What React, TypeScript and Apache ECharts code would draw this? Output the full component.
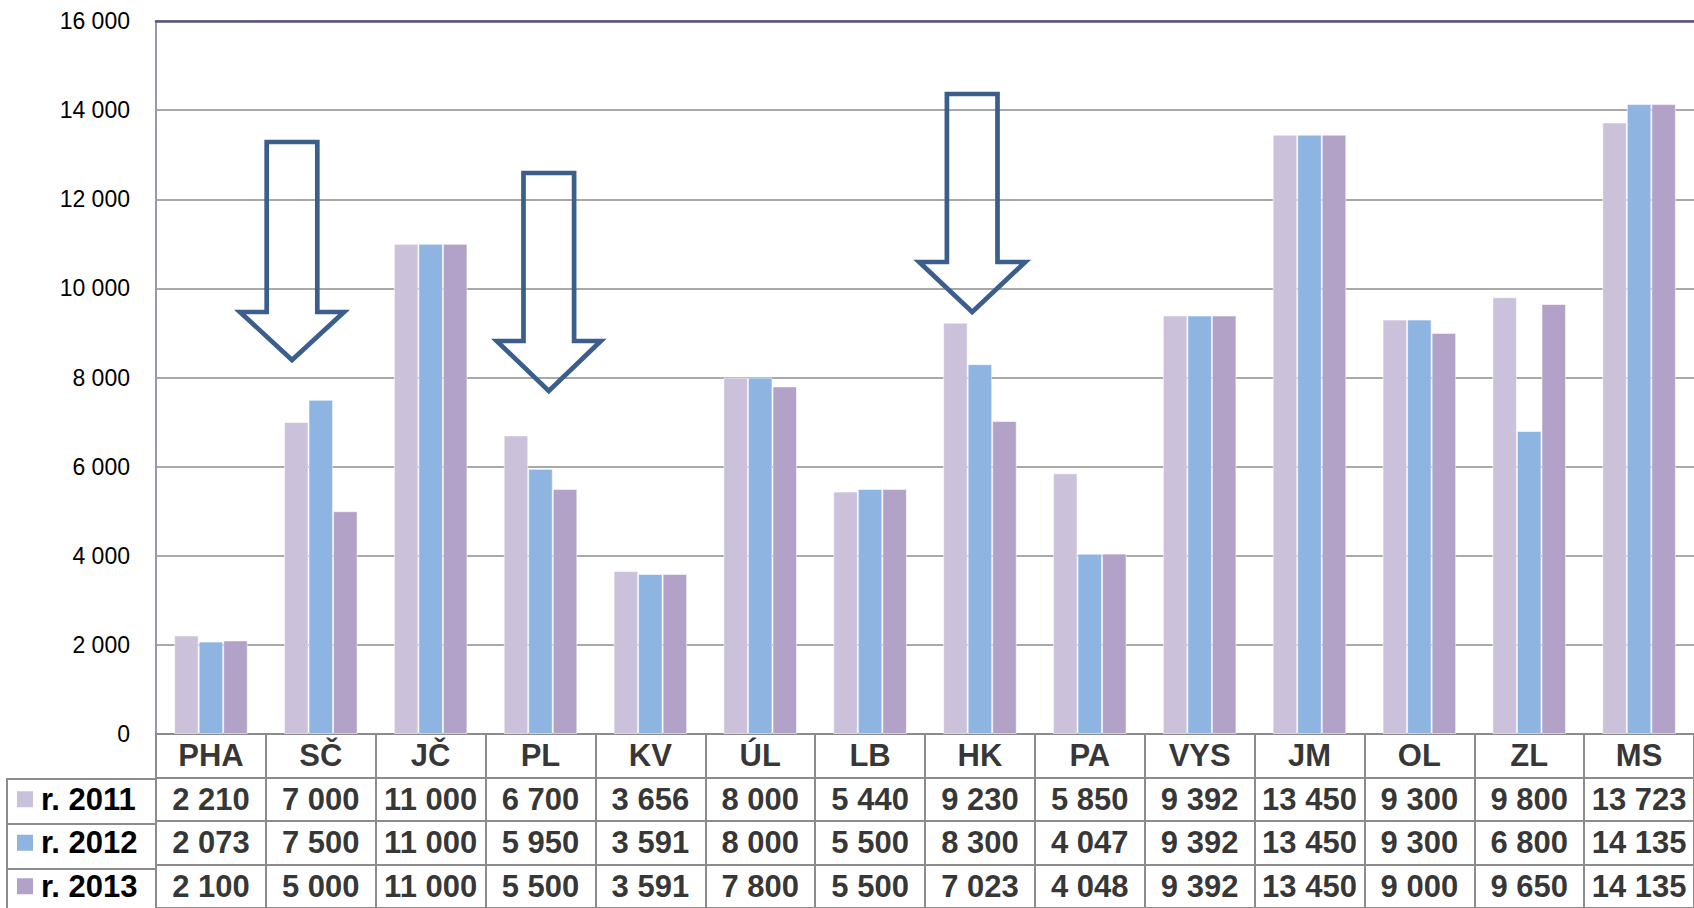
import React, { useEffect, useRef } from 'react';
import * as echarts from 'echarts';

const categories = ['PHA', 'SČ', 'JČ', 'PL', 'KV', 'ÚL', 'LB', 'HK', 'PA', 'VYS', 'JM', 'OL', 'ZL', 'MS'];
const values2011 = [2210, 7000, 11000, 6700, 3656, 8000, 5440, 9230, 5850, 9392, 13450, 9300, 9800, 13723];
const values2012 = [2073, 7500, 11000, 5950, 3591, 8000, 5500, 8300, 4047, 9392, 13450, 9300, 6800, 14135];
const values2013 = [2100, 5000, 11000, 5500, 3591, 7800, 5500, 7023, 4048, 9392, 13450, 9000, 9650, 14135];
const seriesNames = ['r. 2011', 'r. 2012', 'r. 2013'];
const seriesColors = ['#cbc1da', '#8eb4e2', '#b2a2c7'];
const yMin = 0;
const yMax = 16000;
const yInterval = 2000;

const fmt = (v: number) => String(v).replace(/\B(?=(\d{3})+(?!\d))/g, ' ');

const FONT = "'Liberation Sans', Arial, sans-serif";
const GRID_COLOR = '#8c8c8c';

function arrow(cx: number, top: number, wingY: number, tip: number, shaftHw: number, headHw: number) {
  return {
    type: 'polygon',
    z: 100,
    shape: {
      points: [
        [cx - shaftHw, top],
        [cx + shaftHw, top],
        [cx + shaftHw, wingY],
        [cx + headHw, wingY],
        [cx, tip],
        [cx - headHw, wingY],
        [cx - shaftHw, wingY],
      ],
    },
    style: { fill: 'none', stroke: '#3b5e8c', lineWidth: 4.7, lineJoin: 'miter' },
  };
}

export default function App() {
  const ref = useRef<HTMLDivElement>(null);
  useEffect(() => {
    if (!ref.current) return;
    const chart = echarts.init(ref.current, undefined, { renderer: 'svg' });
    const allValues = [values2011, values2012, values2013];
    const rowNames = ['', ...seriesNames];
    const cellData: any[] = [];
    categories.forEach((c, i) => {
      cellData.push({ value: [i, 0], text: c });
      allValues.forEach((vals, r) => {
        cellData.push({ value: [i, r + 1], text: fmt(vals[i]) });
      });
    });
    const rich: any = {
      t: {
        fontFamily: FONT,
        fontSize: 31,
        fontWeight: 'bold',
        color: '#000',
        padding: [0, 0, 0, 8],
        verticalAlign: 'middle',
      },
    };
    seriesColors.forEach((c, i) => {
      rich['s' + i] = { width: 16, height: 16, backgroundColor: c, verticalAlign: 'middle' };
    });

    const left = 156;
    const width = 1541;
    const option: any = {
      animation: false,
      backgroundColor: '#ffffff',
      grid: [
        { left, top: 21, width, height: 713 },
        { left, top: 734, width, height: 180 },
      ],
      xAxis: [
        {
          type: 'category',
          gridIndex: 0,
          data: categories,
          axisLabel: { show: false },
          axisTick: { show: false },
          axisLine: { show: true, lineStyle: { color: GRID_COLOR, width: 2 } },
        },
        {
          type: 'category',
          gridIndex: 0,
          position: 'top',
          data: categories,
          axisLabel: { show: false },
          axisTick: { show: false },
          axisLine: { show: true, lineStyle: { color: '#5e5182', width: 2.5 } },
        },
        {
          type: 'category',
          gridIndex: 1,
          data: categories,
          axisLabel: { show: false },
          axisTick: { show: false },
          axisLine: { show: false },
          splitLine: { show: true, interval: 0, lineStyle: { color: GRID_COLOR, width: 2 } },
        },
      ],
      yAxis: [
        {
          type: 'value',
          gridIndex: 0,
          min: yMin,
          max: yMax,
          interval: yInterval,
          axisLine: { show: true, lineStyle: { color: '#9a98a8', width: 2 } },
          axisTick: { show: false },
          splitLine: { show: true, lineStyle: { color: GRID_COLOR, width: 1.5 } },
          axisLabel: {
            formatter: (v: number) => fmt(v),
            fontFamily: FONT,
            fontSize: 23,
            color: '#000',
            margin: 26,
          },
        },
        {
          type: 'category',
          gridIndex: 1,
          inverse: true,
          data: rowNames,
          axisLine: { show: true, lineStyle: { color: GRID_COLOR, width: 2 } },
          axisTick: { show: false },
          splitLine: { show: true, interval: 0, lineStyle: { color: GRID_COLOR, width: 2 } },
          axisLabel: {
            interval: 0,
            align: 'left',
            margin: 139,
            formatter: (v: string, idx: number) => (idx === 0 ? '' : `{s${idx - 1}|}{t|${v}}`),
            rich,
          },
        },
      ],
      series: [
        ...allValues.map((vals, i) => ({
          type: 'bar',
          name: seriesNames[i],
          xAxisIndex: 0,
          yAxisIndex: 0,
          data: vals,
          barGap: '0%',
          barCategoryGap: '33%',
          itemStyle: { color: seriesColors[i], borderColor: 'rgba(255,255,255,0.55)', borderWidth: 1 },
        })),
        {
          type: 'scatter',
          xAxisIndex: 2,
          yAxisIndex: 1,
          symbol: 'rect',
          symbolSize: 1,
          itemStyle: { color: 'rgba(0,0,0,0)' },
          silent: true,
          data: cellData,
          label: {
            show: true,
            position: 'inside',
            formatter: (p: any) => p.data.text,
            fontFamily: FONT,
            fontSize: 31,
            fontWeight: 'bold',
            color: '#000',
          },
        },
      ],
      graphic: [
        {
          type: 'rect',
          shape: { x: 7, y: 779, width: 149, height: 140 },
          style: { fill: 'none', stroke: GRID_COLOR, lineWidth: 2 },
        },
        { type: 'line', shape: { x1: 7, y1: 824, x2: 156, y2: 824 }, style: { stroke: GRID_COLOR, lineWidth: 2 } },
        { type: 'line', shape: { x1: 7, y1: 869, x2: 156, y2: 869 }, style: { stroke: GRID_COLOR, lineWidth: 2 } },
        arrow(292, 142, 312, 360, 25.3, 52),
        arrow(548.8, 173, 341, 391, 25.3, 52),
        arrow(972.2, 94, 262, 312, 25.3, 53),
      ],
    };
    chart.setOption(option);
    return () => chart.dispose();
  }, []);
  return (
    <div
      ref={ref}
      style={{ position: 'fixed', left: 0, top: 0, width: 1694, height: 908, background: '#fff' }}
    />
  );
}
